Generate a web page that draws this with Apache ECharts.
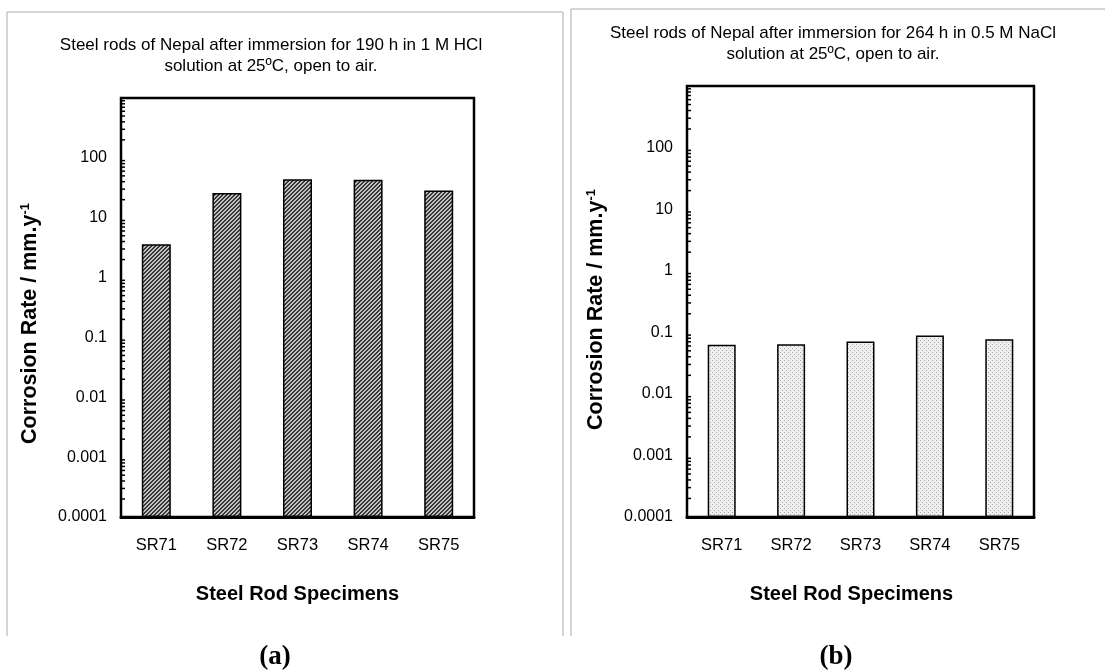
<!DOCTYPE html>
<html>
<head>
<meta charset="utf-8">
<script src="https://cdn.jsdelivr.net/npm/echarts@6/dist/echarts.min.js"></script>
<style>
  html, body { margin: 0; padding: 0; background: #fff; }
  #main { width: 1105px; height: 672px; }
</style>
</head>
<body>
<div id="main"></div>
<script>
    var myChart = echarts.init(document.getElementById('main'));

    // data
    var specimens = ['SR71', 'SR72', 'SR73', 'SR74', 'SR75'];
    var hclRates = [3.6, 26, 44, 43, 28.5];       // (a) 1 M HCl, 190 h
    var naclRates = [0.063, 0.064, 0.071, 0.089, 0.077]; // (b) 0.5 M NaCl, 264 h
    var yTickLabels = ['0.0001', '0.001', '0.01', '0.1', '1', '10', '100', ''];
    var minorTicks = [];
    for (var e = -4; e < 3; e++) {
        for (var m = 2; m <= 9; m++) minorTicks.push(m * Math.pow(10, e));
    }

    // fill patterns for the bars
    function makePattern(draw) {
        var c = document.createElement('canvas');
        c.width = 4; c.height = 4;
        var ctx = c.getContext('2d');
        draw(ctx);
        return {image: c, repeat: 'repeat'};
    }
    var hatch = makePattern(function (ctx) {
        ctx.fillStyle = '#c0c0c0';
        ctx.fillRect(0, 0, 4, 4);
        ctx.fillStyle = '#383838';
        for (var x = 0; x < 4; x++) for (var y = 0; y < 4; y++) {
            if ((x + y) % 4 < 2) ctx.fillRect(x, y, 1, 1);
        }
    });
    var dots = makePattern(function (ctx) {
        ctx.fillStyle = '#efefef';
        ctx.fillRect(0, 0, 4, 4);
        ctx.fillStyle = '#a8a8a8';
        ctx.fillRect(0, 0, 1, 1);
        ctx.fillRect(2, 2, 1, 1);
    });

    var font = 'Liberation Sans, Arial, sans-serif';

    function xAxisOpt(idx, shift) {
        return {
            type: 'category',
            gridIndex: idx,
            data: specimens,
            name: 'Steel Rod Specimens',
            nameLocation: 'middle',
            nameGap: 67,
            nameTextStyle: {fontFamily: font, fontSize: 20, fontWeight: 'bold', color: '#000', padding: [0, shift, 0, 0]},
            axisLine: {lineStyle: {color: '#000', width: 3}},
            axisTick: {inside: true, length: 5, lineStyle: {color: '#000', width: 2}},
            axisLabel: {fontFamily: font, fontSize: 16.5, color: '#000', margin: 20}
        };
    }
    function yAxisOpt(idx, shift) {
        return {
            type: 'log',
            logBase: 10,
            gridIndex: idx,
            min: 0.0001,
            max: 1000,
            startValue: 0.0001,
            splitNumber: 7,
            name: '{t|Corrosion Rate / mm.y}{s|-1}',
            nameLocation: 'middle',
            nameGap: 80,
            nameTextStyle: {
                padding: [0, shift, 0, 0],
                rich: {
                    t: {fontFamily: font, fontSize: 21.5, fontWeight: 'bold', color: '#000'},
                    s: {fontFamily: font, fontSize: 13, fontWeight: 'bold', color: '#000', verticalAlign: 'top', padding: [0, 0, 8, 0]}
                }
            },
            splitLine: {show: false},
            axisLine: {lineStyle: {color: '#000', width: 3}},
            axisTick: {inside: true, length: 7, lineStyle: {color: '#000', width: 2}},
            axisLabel: {
                fontFamily: font, fontSize: 16, color: '#000', margin: 14,
                formatter: function (v) {
                    return yTickLabels[Math.round(Math.log10(v)) + 4];
                }
            }
        };
    }

    function minorTickSeries(idx) {
        return {
            type: 'custom',
            xAxisIndex: idx,
            yAxisIndex: idx,
            silent: true,
            data: minorTicks.map(function (v) { return [0, v]; }),
            renderItem: function (params, api) {
                var y = api.coord([0, api.value(1)])[1];
                var x = params.coordSys.x;
                return {
                    type: 'line',
                    shape: {x1: x, y1: y, x2: x + 4, y2: y},
                    style: {stroke: '#000', lineWidth: 1.5}
                };
            }
        };
    }

    function frameLine(x1, y1, x2, y2) {
        return {type: 'line', shape: {x1: x1, y1: y1, x2: x2, y2: y2}, style: {stroke: '#aaa', lineWidth: 1}};
    }

    var titleStyle = {fontFamily: font, fontSize: 17, fontWeight: 'normal', color: '#000', lineHeight: 21};
    var panelStyle = {fontFamily: 'Liberation Serif, Times New Roman, serif', fontSize: 27, fontWeight: 'bold', color: '#000'};

    option = {
        backgroundColor: '#fff',
        animation: false,
        title: [
            {
                text: 'Steel rods of Nepal after immersion for 190 h in 1 M HCl\nsolution at 25\u00baC, open to air.',
                left: 266, top: 30, textAlign: 'center',
                textStyle: titleStyle
            },
            {
                text: 'Steel rods of Nepal after immersion for 264 h in 0.5 M NaCl\nsolution at 25\u00baC, open to air.',
                left: 828, top: 18, textAlign: 'center',
                textStyle: titleStyle
            },
            {text: '(a)', left: 270, top: 639, textAlign: 'center', textStyle: panelStyle},
            {text: '(b)', left: 831, top: 639, textAlign: 'center', textStyle: panelStyle}
        ],
        grid: [
            {left: 121, top: 98, width: 353, height: 419, show: true, borderColor: '#000', borderWidth: 2.5, backgroundColor: '#fff'},
            {left: 687, top: 86, width: 347, height: 431, show: true, borderColor: '#000', borderWidth: 2.5, backgroundColor: '#fff'}
        ],
        xAxis: [xAxisOpt(0, 0), xAxisOpt(1, 18)],
        yAxis: [yAxisOpt(0, 32), yAxisOpt(1, 16)],
        graphic: [
            frameLine(7, 12, 563, 12),
            frameLine(7, 12, 7, 636),
            frameLine(563, 12, 563, 636),
            frameLine(571, 9, 1105, 9),
            frameLine(571, 9, 571, 636)
        ],
        series: [
            {
                type: 'bar',
                xAxisIndex: 0, yAxisIndex: 0,
                data: hclRates,
                barWidth: 29,
                itemStyle: {color: hatch, borderColor: '#000', borderWidth: 1.5}
            },
            {
                type: 'bar',
                xAxisIndex: 1, yAxisIndex: 1,
                data: naclRates,
                barWidth: 28,
                itemStyle: {color: dots, borderColor: '#000', borderWidth: 1.5}
            },
            minorTickSeries(0),
            minorTickSeries(1)
        ]
    };

    myChart.setOption(option);
</script>
</body>
</html>
